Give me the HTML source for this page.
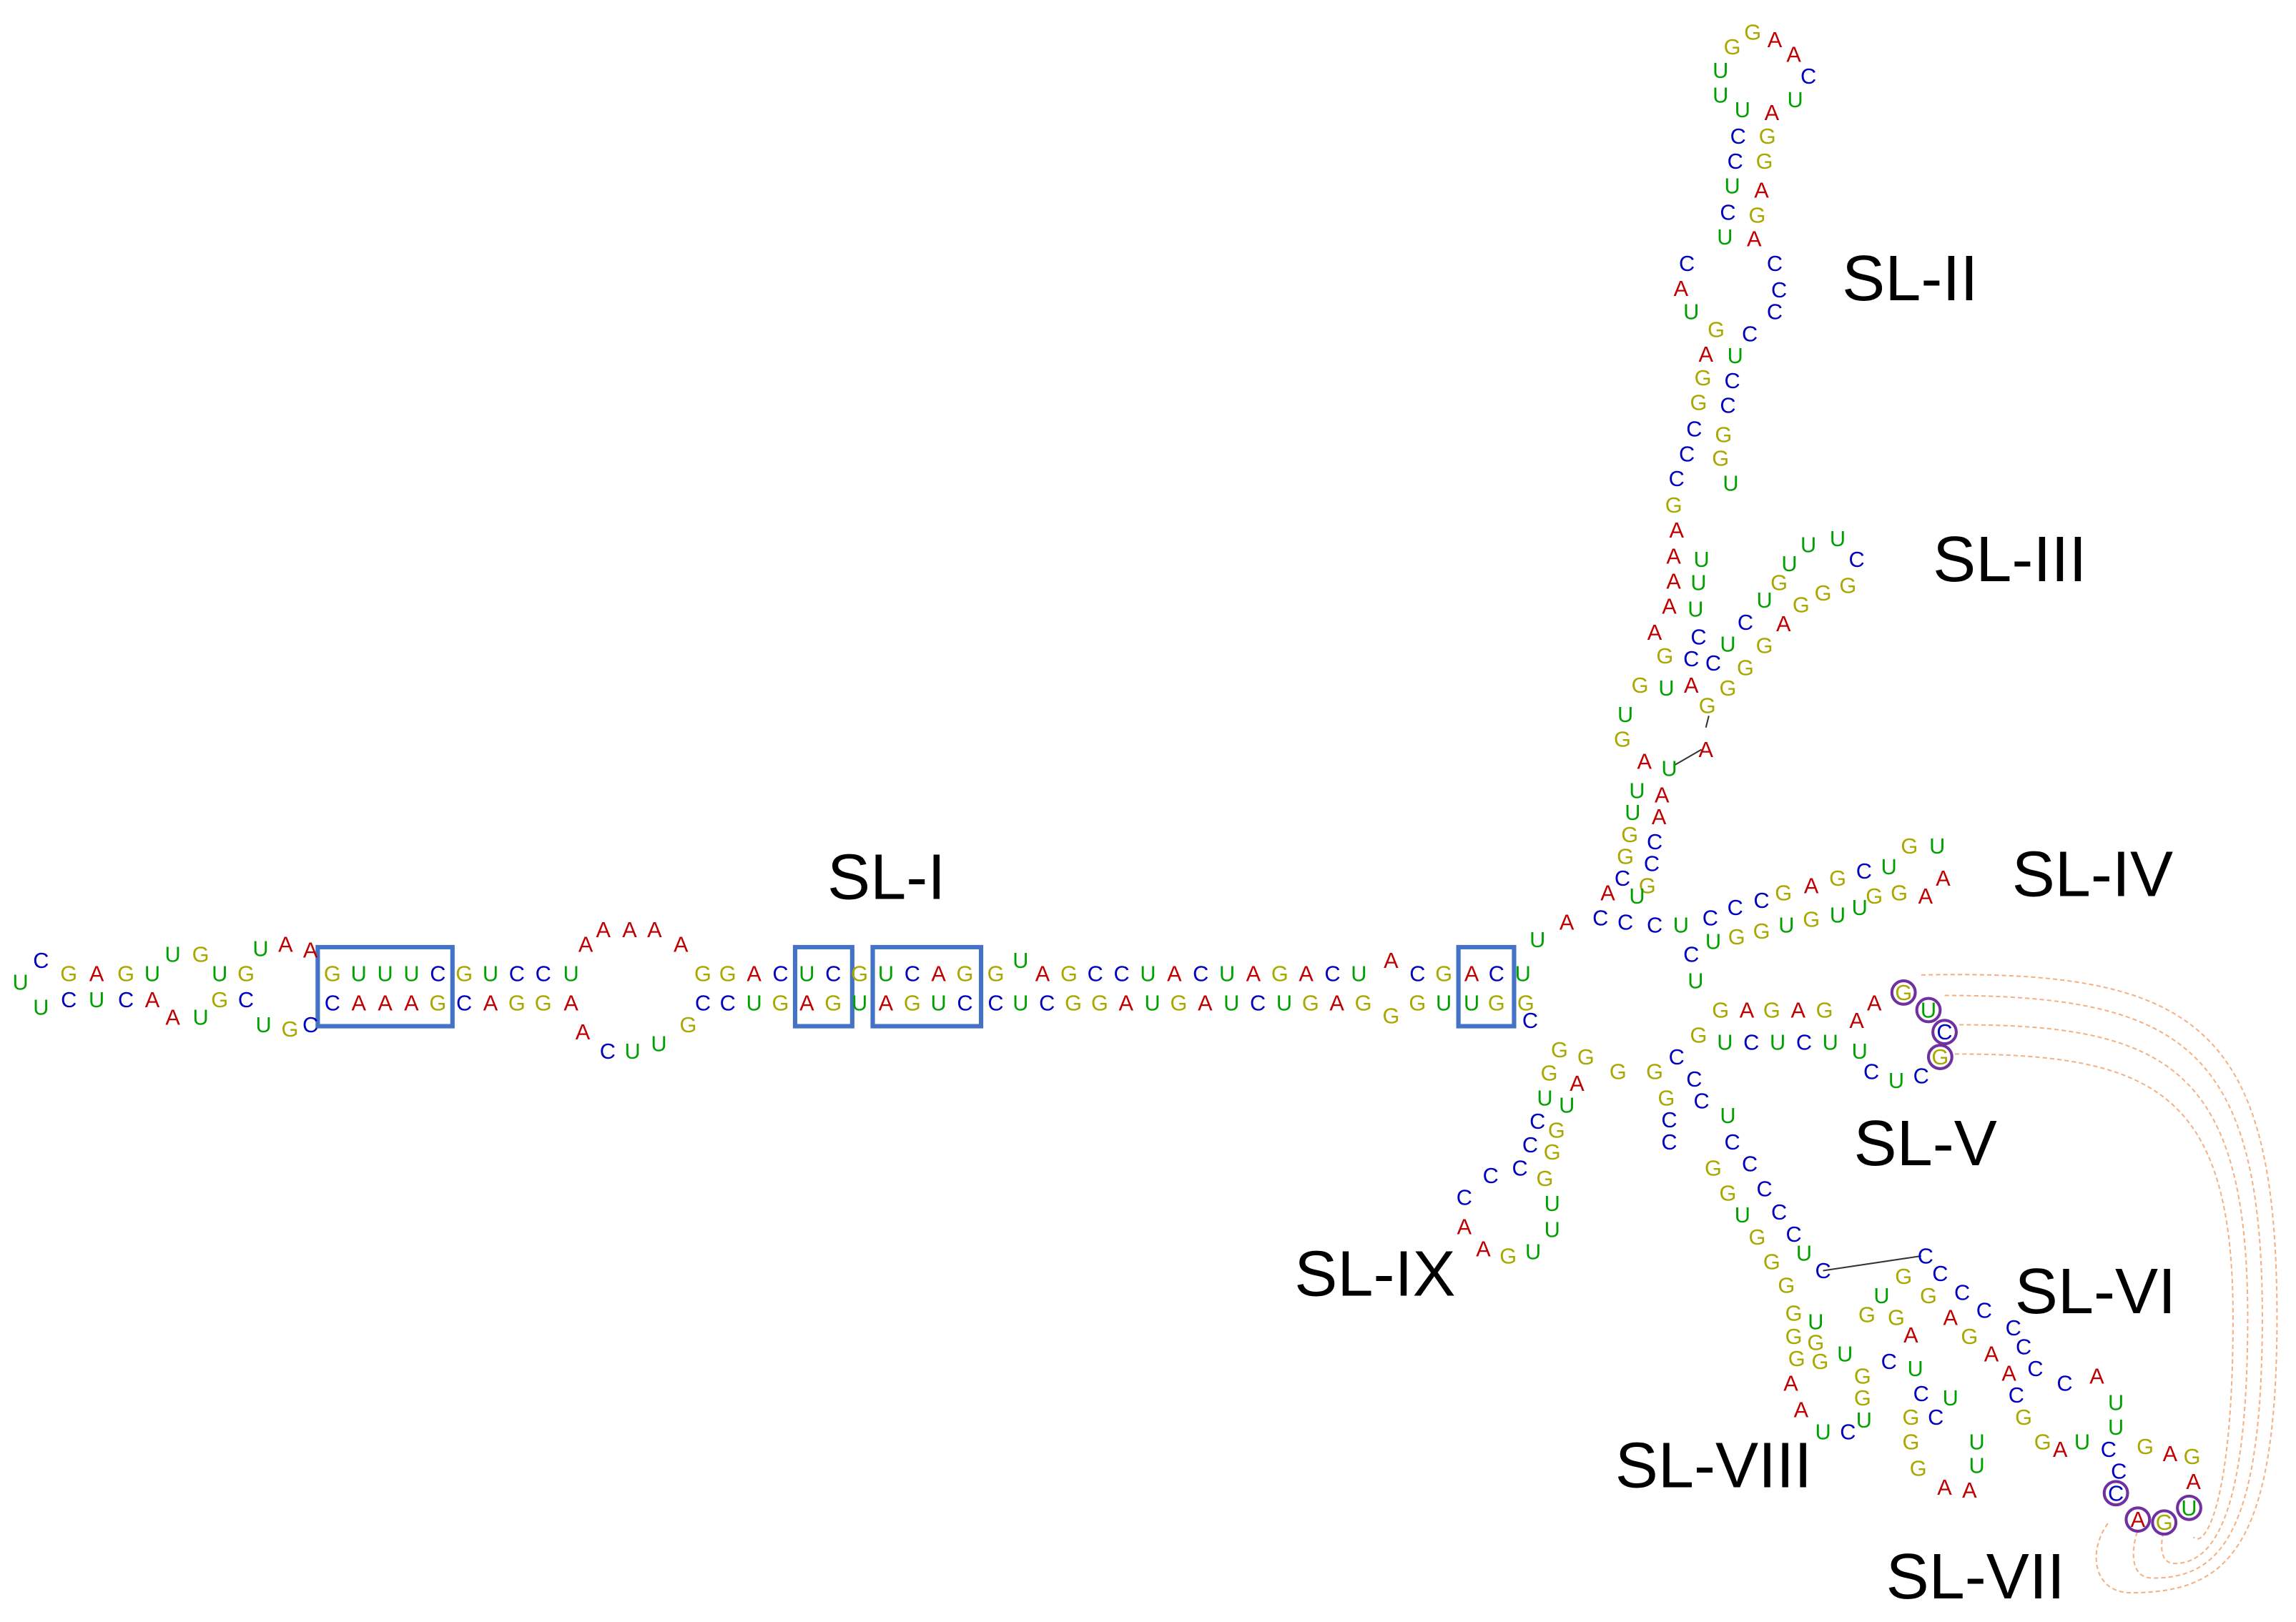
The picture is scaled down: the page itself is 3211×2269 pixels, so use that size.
<!DOCTYPE html>
<html><head><meta charset="utf-8">
<style>
html,body{margin:0;padding:0;background:#fff;}
svg{display:block}
text{font-family:"Liberation Sans",sans-serif;text-anchor:middle;dominant-baseline:central;font-size:15px}
.A{fill:#c00000}.C{fill:#0000c0}.G{fill:#a8a800}.U{fill:#00a000}
.L{font-size:44px;fill:#000;dominant-baseline:alphabetic;text-anchor:start}
</style></head><body>
<svg width="3211" height="2269" viewBox="0 0 1568 1108" preserveAspectRatio="none">
<rect width="1568" height="1108" fill="#fff"/>
<g fill="none" stroke="#4472c4" stroke-width="3">
<rect x="217" y="647" width="92" height="54"/><rect x="543" y="647" width="39" height="54"/>
<rect x="596" y="647" width="74" height="54"/><rect x="996" y="647" width="38" height="54"/>
</g>
<g fill="none" stroke="#f4b183" stroke-width="1" stroke-dasharray="3,2">
<path d="M1312,666 C1500,662 1555,700 1555,900 C1555,1060 1520,1088 1455,1088 C1430,1088 1425,1060 1440,1040"/>
<path d="M1328,680 C1490,680 1545,715 1545,900 C1545,1050 1515,1078 1470,1078 C1455,1078 1455,1060 1460,1045"/>
<path d="M1338,700 C1480,700 1535,730 1535,900 C1535,1040 1510,1068 1485,1068 C1475,1068 1475,1055 1478,1045"/>
<path d="M1335,720 C1470,720 1525,745 1525,900 C1525,1030 1505,1058 1498,1050"/>
</g>
<g stroke="#333" stroke-width="1">
<line x1="1245" y1="868" x2="1312" y2="858"/><line x1="1143" y1="523" x2="1162" y2="512"/><line x1="1165" y1="497" x2="1167" y2="489"/>
</g>
<g fill="none" stroke="#7030a0" stroke-width="2">
<circle cx="1300" cy="678" r="8"/><circle cx="1317" cy="690" r="8"/><circle cx="1328" cy="705" r="8"/><circle cx="1325" cy="722" r="8"/>
<circle cx="1445" cy="1020" r="8"/><circle cx="1460" cy="1038" r="8"/><circle cx="1478" cy="1040" r="8"/><circle cx="1495" cy="1030" r="8"/>
</g>
<!-- SL-I top -->
<text x="28" y="656" class="C">C</text><text x="14" y="671" class="U">U</text><text x="28" y="688" class="U">U</text>
<text x="47" y="665" class="G">G</text><text x="66" y="665" class="A">A</text><text x="86" y="665" class="G">G</text><text x="104" y="665" class="U">U</text>
<text x="118" y="652" class="U">U</text><text x="137" y="652" class="G">G</text><text x="150" y="665" class="U">U</text><text x="168" y="665" class="G">G</text>
<text x="178" y="648" class="U">U</text><text x="195" y="645" class="A">A</text><text x="212" y="649" class="A">A</text>
<text x="227" y="665" class="G">G</text><text x="245" y="665" class="U">U</text><text x="263" y="665" class="U">U</text><text x="281" y="665" class="U">U</text><text x="299" y="665" class="C">C</text>
<text x="317" y="665" class="G">G</text><text x="335" y="665" class="U">U</text><text x="353" y="665" class="C">C</text><text x="371" y="665" class="C">C</text><text x="390" y="665" class="U">U</text>
<text x="400" y="645" class="A">A</text><text x="412" y="635" class="A">A</text><text x="430" y="635" class="A">A</text><text x="447" y="635" class="A">A</text><text x="465" y="645" class="A">A</text>
<text x="480" y="665" class="G">G</text><text x="497" y="665" class="G">G</text><text x="515" y="665" class="A">A</text><text x="533" y="665" class="C">C</text>
<text x="551" y="665" class="U">U</text><text x="569" y="665" class="C">C</text><text x="587" y="665" class="G">G</text>
<text x="605" y="665" class="U">U</text><text x="623" y="665" class="C">C</text><text x="641" y="665" class="A">A</text><text x="659" y="665" class="G">G</text>
<text x="680" y="665" class="G">G</text><text x="697" y="656" class="U">U</text><text x="712" y="665" class="A">A</text><text x="730" y="665" class="G">G</text><text x="748" y="665" class="C">C</text><text x="766" y="665" class="C">C</text><text x="784" y="665" class="U">U</text><text x="802" y="665" class="A">A</text><text x="820" y="665" class="C">C</text><text x="838" y="665" class="U">U</text><text x="856" y="665" class="A">A</text><text x="874" y="665" class="G">G</text><text x="892" y="665" class="A">A</text><text x="910" y="665" class="C">C</text><text x="928" y="665" class="U">U</text><text x="950" y="656" class="A">A</text><text x="968" y="665" class="C">C</text><text x="986" y="665" class="G">G</text><text x="1005" y="665" class="A">A</text><text x="1022" y="665" class="C">C</text><text x="1040" y="665" class="U">U</text>
<!-- SL-I bottom -->
<text x="47" y="683" class="C">C</text><text x="66" y="683" class="U">U</text><text x="86" y="683" class="C">C</text><text x="104" y="683" class="A">A</text>
<text x="118" y="695" class="A">A</text><text x="137" y="695" class="U">U</text><text x="150" y="683" class="G">G</text><text x="168" y="683" class="C">C</text>
<text x="180" y="700" class="U">U</text><text x="198" y="703" class="G">G</text><text x="212" y="700" class="C">C</text>
<text x="227" y="685" class="C">C</text><text x="245" y="685" class="A">A</text><text x="263" y="685" class="A">A</text><text x="281" y="685" class="A">A</text><text x="299" y="685" class="G">G</text>
<text x="317" y="685" class="C">C</text><text x="335" y="685" class="A">A</text><text x="353" y="685" class="G">G</text><text x="371" y="685" class="G">G</text><text x="390" y="685" class="A">A</text>
<text x="398" y="705" class="A">A</text><text x="415" y="718" class="C">C</text><text x="432" y="718" class="U">U</text><text x="450" y="713" class="U">U</text><text x="470" y="700" class="G">G</text>
<text x="480" y="685" class="C">C</text><text x="497" y="685" class="C">C</text><text x="515" y="685" class="U">U</text><text x="533" y="685" class="G">G</text>
<text x="551" y="685" class="A">A</text><text x="569" y="685" class="G">G</text><text x="587" y="685" class="U">U</text>
<text x="605" y="685" class="A">A</text><text x="623" y="685" class="G">G</text><text x="641" y="685" class="U">U</text><text x="659" y="685" class="C">C</text>
<text x="680" y="685" class="C">C</text><text x="697" y="685" class="U">U</text><text x="715" y="685" class="C">C</text><text x="733" y="685" class="G">G</text><text x="751" y="685" class="G">G</text><text x="769" y="685" class="A">A</text><text x="787" y="685" class="U">U</text><text x="805" y="685" class="G">G</text><text x="823" y="685" class="A">A</text><text x="841" y="685" class="U">U</text><text x="859" y="685" class="C">C</text><text x="877" y="685" class="U">U</text><text x="895" y="685" class="G">G</text><text x="913" y="685" class="A">A</text><text x="931" y="685" class="G">G</text><text x="950" y="694" class="G">G</text><text x="968" y="685" class="G">G</text><text x="986" y="685" class="U">U</text><text x="1005" y="685" class="U">U</text><text x="1022" y="685" class="G">G</text><text x="1042" y="685" class="G">G</text>
<!-- SL-II -->
<text x="1183" y="32" class="G">G</text><text x="1197" y="22" class="G">G</text><text x="1212" y="27" class="A">A</text><text x="1225" y="37" class="A">A</text><text x="1235" y="52" class="C">C</text><text x="1226" y="68" class="U">U</text><text x="1175" y="48" class="U">U</text><text x="1175" y="65" class="U">U</text><text x="1190" y="75" class="U">U</text><text x="1210" y="77" class="A">A</text>
<text x="1187" y="93" class="C">C</text><text x="1207" y="93" class="G">G</text><text x="1185" y="110" class="C">C</text><text x="1205" y="110" class="G">G</text><text x="1183" y="127" class="U">U</text><text x="1203" y="130" class="A">A</text><text x="1180" y="145" class="C">C</text><text x="1200" y="147" class="G">G</text><text x="1178" y="162" class="U">U</text><text x="1198" y="163" class="A">A</text>
<text x="1152" y="180" class="C">C</text><text x="1148" y="197" class="A">A</text><text x="1155" y="213" class="U">U</text><text x="1172" y="225" class="G">G</text><text x="1212" y="180" class="C">C</text><text x="1215" y="198" class="C">C</text><text x="1212" y="213" class="C">C</text><text x="1195" y="228" class="C">C</text>
<text x="1165" y="242" class="A">A</text><text x="1185" y="243" class="U">U</text><text x="1163" y="258" class="G">G</text><text x="1183" y="260" class="C">C</text><text x="1160" y="275" class="G">G</text><text x="1180" y="277" class="C">C</text><text x="1157" y="293" class="C">C</text><text x="1177" y="297" class="G">G</text><text x="1152" y="310" class="C">C</text><text x="1175" y="313" class="G">G</text><text x="1182" y="330" class="U">U</text>
<text x="1145" y="327" class="C">C</text><text x="1143" y="345" class="G">G</text><text x="1145" y="362" class="A">A</text><text x="1143" y="380" class="A">A</text><text x="1162" y="382" class="U">U</text><text x="1143" y="397" class="A">A</text><text x="1160" y="398" class="U">U</text><text x="1140" y="414" class="A">A</text><text x="1158" y="416" class="U">U</text>
<text x="1130" y="432" class="A">A</text><text x="1137" y="448" class="G">G</text><text x="1155" y="450" class="C">C</text><text x="1160" y="435" class="C">C</text><text x="1120" y="468" class="G">G</text><text x="1138" y="470" class="U">U</text><text x="1110" y="488" class="U">U</text><text x="1108" y="505" class="G">G</text><text x="1123" y="520" class="A">A</text><text x="1140" y="525" class="U">U</text><text x="1165" y="512" class="A">A</text>
<!-- SL-III -->
<text x="1235" y="372" class="U">U</text><text x="1255" y="368" class="U">U</text><text x="1268" y="382" class="C">C</text><text x="1262" y="400" class="G">G</text><text x="1245" y="405" class="G">G</text><text x="1222" y="385" class="U">U</text><text x="1215" y="398" class="G">G</text><text x="1230" y="413" class="G">G</text><text x="1205" y="410" class="U">U</text><text x="1218" y="426" class="A">A</text><text x="1192" y="425" class="C">C</text><text x="1205" y="441" class="G">G</text><text x="1180" y="440" class="U">U</text><text x="1192" y="456" class="G">G</text><text x="1170" y="453" class="C">C</text><text x="1180" y="470" class="G">G</text><text x="1155" y="468" class="A">A</text><text x="1166" y="482" class="G">G</text>
<!-- trunk -->
<text x="1118" y="540" class="U">U</text><text x="1135" y="543" class="A">A</text><text x="1115" y="555" class="U">U</text><text x="1133" y="558" class="A">A</text><text x="1113" y="570" class="G">G</text><text x="1130" y="575" class="C">C</text><text x="1110" y="585" class="G">G</text><text x="1128" y="590" class="C">C</text><text x="1108" y="600" class="C">C</text><text x="1125" y="605" class="G">G</text><text x="1098" y="610" class="A">A</text><text x="1118" y="612" class="U">U</text>
<text x="1050" y="642" class="U">U</text><text x="1070" y="630" class="A">A</text><text x="1093" y="627" class="C">C</text><text x="1110" y="630" class="C">C</text>
<!-- SL-IV -->
<text x="1130" y="632" class="C">C</text><text x="1148" y="632" class="U">U</text><text x="1168" y="627" class="C">C</text><text x="1185" y="620" class="C">C</text><text x="1203" y="615" class="C">C</text><text x="1218" y="610" class="G">G</text><text x="1237" y="605" class="A">A</text><text x="1255" y="600" class="G">G</text><text x="1273" y="595" class="C">C</text><text x="1290" y="592" class="U">U</text><text x="1304" y="578" class="G">G</text><text x="1323" y="578" class="U">U</text><text x="1327" y="600" class="A">A</text><text x="1315" y="612" class="A">A</text><text x="1297" y="610" class="G">G</text><text x="1280" y="612" class="G">G</text><text x="1270" y="620" class="U">U</text><text x="1255" y="625" class="U">U</text><text x="1237" y="628" class="G">G</text><text x="1220" y="632" class="U">U</text><text x="1203" y="636" class="G">G</text><text x="1186" y="640" class="G">G</text><text x="1170" y="643" class="U">U</text><text x="1155" y="652" class="C">C</text>
<!-- SL-V -->
<text x="1158" y="670" class="U">U</text><text x="1175" y="690" class="G">G</text><text x="1193" y="690" class="A">A</text><text x="1210" y="690" class="G">G</text><text x="1228" y="690" class="A">A</text><text x="1246" y="690" class="G">G</text><text x="1268" y="697" class="A">A</text><text x="1280" y="685" class="A">A</text>
<text x="1300" y="678" class="G">G</text><text x="1317" y="690" class="U">U</text><text x="1328" y="705" class="C">C</text><text x="1325" y="722" class="G">G</text>
<text x="1312" y="735" class="C">C</text><text x="1295" y="738" class="U">U</text><text x="1278" y="732" class="C">C</text><text x="1270" y="718" class="U">U</text><text x="1250" y="712" class="U">U</text><text x="1232" y="712" class="C">C</text><text x="1214" y="712" class="U">U</text><text x="1196" y="712" class="C">C</text><text x="1178" y="712" class="U">U</text><text x="1160" y="707" class="G">G</text>
<!-- SL-IX -->
<text x="1045" y="697" class="C">C</text><text x="1065" y="717" class="G">G</text><text x="1083" y="722" class="G">G</text><text x="1105" y="732" class="G">G</text><text x="1077" y="740" class="A">A</text><text x="1058" y="733" class="G">G</text>
<text x="1055" y="750" class="U">U</text><text x="1050" y="766" class="C">C</text><text x="1045" y="782" class="C">C</text><text x="1038" y="798" class="C">C</text><text x="1018" y="803" class="C">C</text><text x="1000" y="818" class="C">C</text><text x="1000" y="838" class="A">A</text><text x="1013" y="853" class="A">A</text><text x="1030" y="858" class="G">G</text><text x="1047" y="855" class="U">U</text><text x="1060" y="840" class="U">U</text><text x="1060" y="822" class="U">U</text><text x="1055" y="805" class="G">G</text><text x="1060" y="787" class="G">G</text><text x="1063" y="772" class="G">G</text><text x="1070" y="755" class="U">U</text>
<!-- lower trunk -->
<text x="1130" y="732" class="G">G</text><text x="1145" y="722" class="C">C</text><text x="1157" y="737" class="C">C</text><text x="1138" y="750" class="G">G</text><text x="1162" y="752" class="C">C</text><text x="1140" y="765" class="C">C</text><text x="1180" y="762" class="U">U</text><text x="1140" y="780" class="C">C</text><text x="1183" y="780" class="C">C</text><text x="1170" y="798" class="G">G</text><text x="1195" y="795" class="C">C</text><text x="1180" y="815" class="G">G</text><text x="1205" y="812" class="C">C</text><text x="1190" y="830" class="U">U</text><text x="1215" y="828" class="C">C</text><text x="1200" y="845" class="G">G</text><text x="1225" y="843" class="C">C</text><text x="1210" y="862" class="G">G</text><text x="1232" y="856" class="U">U</text><text x="1220" y="878" class="G">G</text><text x="1245" y="868" class="C">C</text>
<!-- SL-VIII -->
<text x="1225" y="897" class="G">G</text><text x="1240" y="903" class="U">U</text><text x="1225" y="913" class="G">G</text><text x="1240" y="917" class="G">G</text><text x="1227" y="928" class="G">G</text><text x="1243" y="930" class="G">G</text><text x="1260" y="925" class="U">U</text><text x="1223" y="945" class="A">A</text><text x="1230" y="963" class="A">A</text><text x="1245" y="978" class="U">U</text><text x="1262" y="978" class="C">C</text><text x="1273" y="970" class="U">U</text><text x="1272" y="955" class="G">G</text><text x="1272" y="940" class="G">G</text>
<!-- SL-VII -->
<text x="1285" y="885" class="U">U</text><text x="1275" y="898" class="G">G</text><text x="1295" y="900" class="G">G</text><text x="1305" y="912" class="A">A</text><text x="1290" y="930" class="C">C</text><text x="1308" y="935" class="U">U</text><text x="1312" y="952" class="C">C</text><text x="1305" y="968" class="G">G</text><text x="1322" y="968" class="C">C</text><text x="1305" y="985" class="G">G</text><text x="1350" y="985" class="U">U</text><text x="1350" y="1001" class="U">U</text><text x="1310" y="1003" class="G">G</text><text x="1328" y="1016" class="A">A</text><text x="1345" y="1018" class="A">A</text><text x="1332" y="955" class="U">U</text>
<!-- SL-VI -->
<text x="1315" y="858" class="C">C</text><text x="1325" y="870" class="C">C</text><text x="1300" y="872" class="G">G</text><text x="1317" y="885" class="G">G</text><text x="1340" y="883" class="C">C</text><text x="1355" y="895" class="C">C</text><text x="1375" y="907" class="C">C</text><text x="1332" y="900" class="A">A</text><text x="1345" y="913" class="G">G</text><text x="1360" y="925" class="A">A</text><text x="1382" y="920" class="C">C</text><text x="1390" y="935" class="C">C</text><text x="1372" y="938" class="A">A</text><text x="1410" y="945" class="C">C</text><text x="1432" y="940" class="A">A</text><text x="1377" y="953" class="C">C</text><text x="1382" y="968" class="G">G</text><text x="1445" y="958" class="U">U</text><text x="1395" y="985" class="G">G</text><text x="1407" y="990" class="A">A</text><text x="1422" y="985" class="U">U</text><text x="1445" y="975" class="U">U</text><text x="1440" y="990" class="C">C</text><text x="1447" y="1005" class="C">C</text><text x="1465" y="988" class="G">G</text><text x="1482" y="993" class="A">A</text><text x="1497" y="995" class="G">G</text><text x="1498" y="1012" class="A">A</text>
<text x="1445" y="1020" class="C">C</text><text x="1460" y="1038" class="A">A</text><text x="1478" y="1040" class="G">G</text><text x="1495" y="1030" class="U">U</text>
<!-- labels -->
<text x="565" y="614" class="L">SL-I</text><text x="1258" y="205" class="L">SL-II</text><text x="1320" y="397" class="L">SL-III</text><text x="1374" y="612" class="L">SL-IV</text><text x="1266" y="796" class="L">SL-V</text><text x="1376" y="897" class="L">SL-VI</text><text x="884" y="885" class="L">SL-IX</text><text x="1103" y="1016" class="L">SL-VIII</text><text x="1288" y="1092" class="L">SL-VII</text>
</svg>
</body></html>
